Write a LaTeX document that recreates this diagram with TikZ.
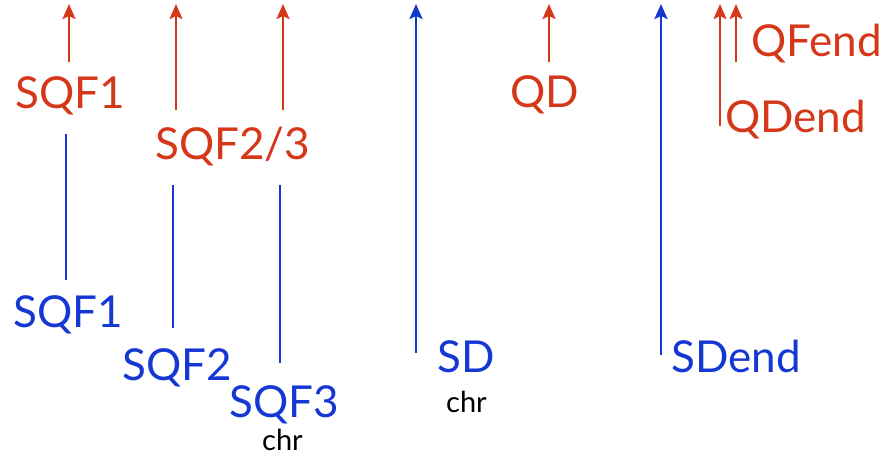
\documentclass[tikz,border=0pt]{standalone}
\usepackage{fontspec}
\setmainfont{Lato}
\usetikzlibrary{arrows.meta}
\definecolor{qred}{RGB}{213,55,25}
\definecolor{qblue}{RGB}{22,56,210}
\tikzset{
  lbl/.style={anchor=base west, inner sep=0pt, font=\fontsize{44}{48}\selectfont},
  redlbl/.style={lbl, text=qred},
  bluelbl/.style={lbl, text=qblue},
  chrlbl/.style={anchor=base west, inner sep=0pt, font=\fontsize{29}{32}\selectfont, text=black},
  redarr/.style={draw=qred, line width=2.2pt, -{Stealth[length=15pt,width=13pt,inset=3pt]}},
  bluearr/.style={draw=qblue, line width=2.6pt, -{Stealth[length=15pt,width=13pt,inset=3pt]}},
  blueline/.style={draw=qblue, line width=2.6pt},
}
\begin{document}
\begin{tikzpicture}[x=1pt,y=-1pt]
\useasboundingbox (0,0) rectangle (887,457);
% labels
\node[redlbl] (rsqf1) at (15,109) {SQF1};
\node[redlbl] (rsqf23) at (155,160) {SQF2/3};
\node[redlbl] (rqd) at (510,108) {QD};
\node[redlbl] (rqfend) at (751,57) {QFend};
\node[redlbl] (rqdend) at (725,133) {QDend};
\node[bluelbl] (bsqf1) at (13,328) {SQF1};
\node[bluelbl] (bsqf2) at (122,380) {SQF2};
\node[bluelbl] (bsqf3) at (229,417) {SQF3};
\node[bluelbl] (bsd) at (437,373) {SD};
\node[bluelbl] (bsdend) at (671,373) {SDend};
\node[chrlbl] (chra) at (262,450) {chr};
\node[chrlbl] (chrb) at (446,412) {chr};
% coordinates
\coordinate (a1s) at (69,62);  \coordinate (a1e) at (69,4);
\coordinate (a2s) at (176,110); \coordinate (a2e) at (176,4);
\coordinate (a3s) at (283,110); \coordinate (a3e) at (283,4);
\coordinate (a4s) at (549,62); \coordinate (a4e) at (549,4);
\coordinate (a5s) at (720,126); \coordinate (a5e) at (720,4);
\coordinate (a6s) at (736,62); \coordinate (a6e) at (736,4);
\coordinate (b1s) at (416,353); \coordinate (b1e) at (416,4);
\coordinate (b2s) at (661,355); \coordinate (b2e) at (661,4);
\coordinate (l1s) at (66,280); \coordinate (l1e) at (66,134);
\coordinate (l2s) at (173,328); \coordinate (l2e) at (173,185);
\coordinate (l3s) at (280,363); \coordinate (l3e) at (280,185);
% connectors
\draw[redarr] (a1s) -- (a1e);
\draw[redarr] (a2s) -- (a2e);
\draw[redarr] (a3s) -- (a3e);
\draw[redarr] (a4s) -- (a4e);
\draw[redarr] (a5s) -- (a5e);
\draw[redarr] (a6s) -- (a6e);
\draw[bluearr] (b1s) -- (b1e);
\draw[bluearr] (b2s) -- (b2e);
\draw[blueline] (l1s) -- (l1e);
\draw[blueline] (l2s) -- (l2e);
\draw[blueline] (l3s) -- (l3e);
\end{tikzpicture}
\end{document}
